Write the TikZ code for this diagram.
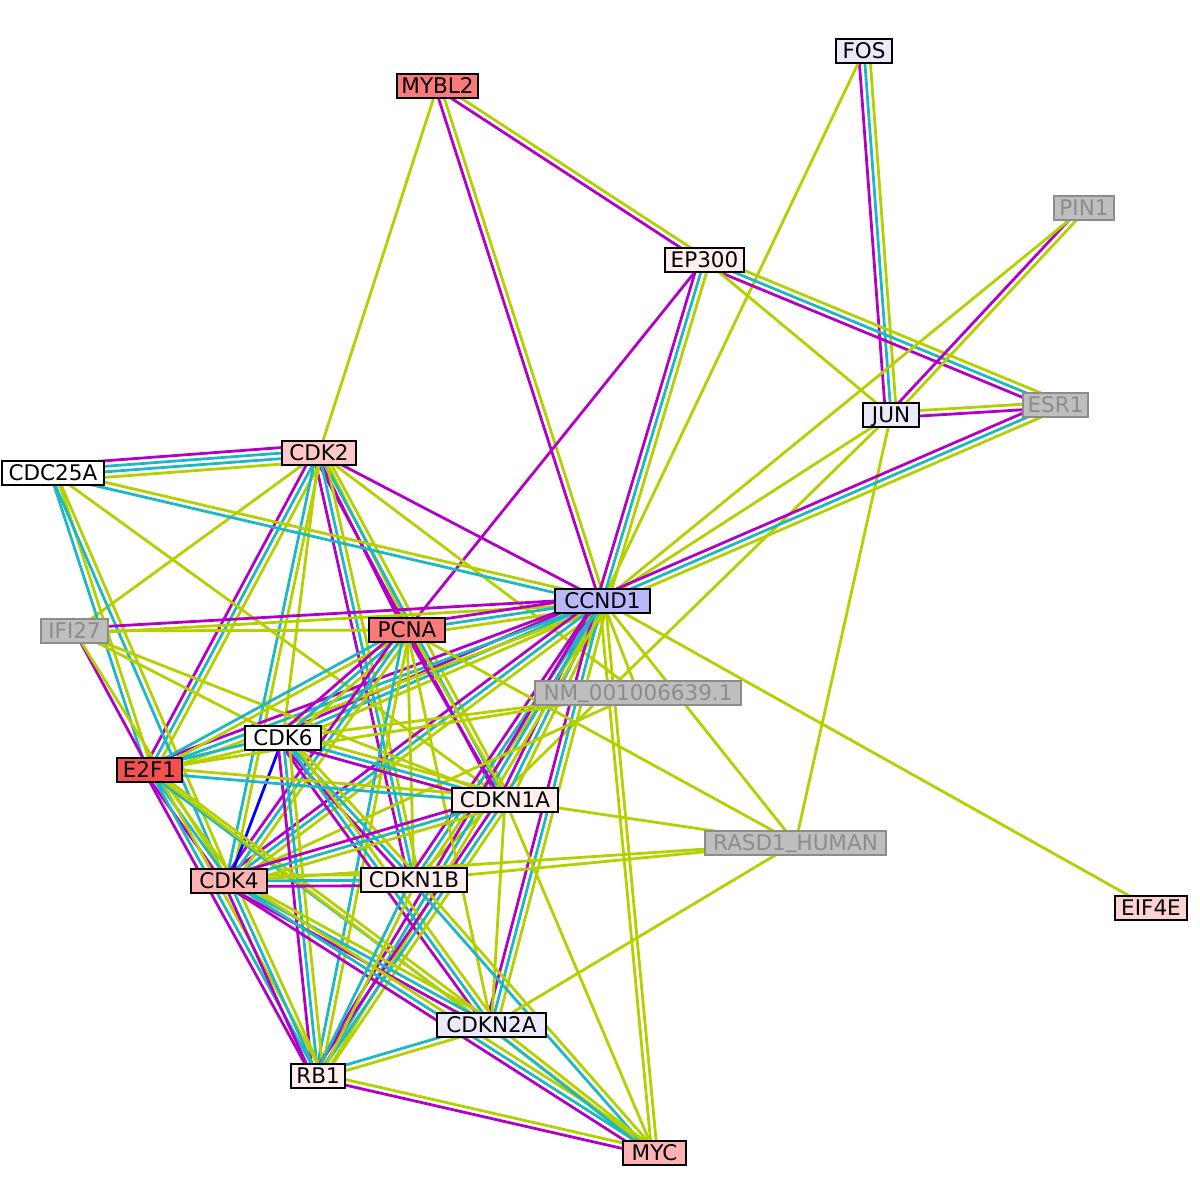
\documentclass[tikz,border=0pt]{standalone}
\usepackage{fontspec}
\setmainfont{DejaVu Sans}
\usetikzlibrary{calc,backgrounds}
\definecolor{cM}{RGB}{178,0,196}
\definecolor{cC}{RGB}{32,184,192}
\definecolor{cG}{RGB}{180,208,0}
\definecolor{cB}{RGB}{0,0,255}
\definecolor{fSal}{RGB}{250,122,122}
\definecolor{fRed}{RGB}{245,80,80}
\definecolor{fPk}{RGB}{255,200,200}
\definecolor{fPkB}{RGB}{255,178,178}
\definecolor{fPkC}{RGB}{255,210,210}
\definecolor{fLt}{RGB}{255,238,238}
\definecolor{fLav}{RGB}{234,234,250}
\definecolor{fBlu}{RGB}{184,184,250}
\definecolor{gFill}{RGB}{190,190,190}
\definecolor{gLine}{RGB}{140,140,140}
\newcommand\usc{\raisebox{3pt}{\_}}
\tikzset{
  nd/.style={draw=black, line width=2pt, minimum height=24pt, inner xsep=1pt, inner ysep=0pt,
    text height=15.5pt, text depth=0pt, font=\fontsize{21.5}{21.5}\selectfont},
  gnd/.style={nd, draw=gLine, fill=gFill, text=gLine},
  edge/.style={line width=2.8pt}
}
\newcommand\bund[3]{%
  \foreach \ecol [count=\ei] in {#3}{\xdef\nbund{\ei}}%
  \foreach \ecol [count=\ei] in {#3}{%
    \pgfmathsetmacro\eoff{(\ei-(\nbund+1)/2)*5.5}%
    \draw[edge,\ecol] ($(#1.center)!\eoff pt!90:(#2.center)$) -- ($(#2.center)!\eoff pt!-90:(#1.center)$);
  }}
\begin{document}
\begin{tikzpicture}[x=1pt,y=-1pt]
\useasboundingbox (0,0) rectangle (1200,1200);
\node[nd,fill=fSal,minimum width=81pt] (MYBL2) at (437.5,86) {MYBL2};
\node[nd,fill=fLav,minimum width=56pt] (FOS) at (864,51) {FOS};
\node[nd,fill=fLt,minimum width=79pt] (EP300) at (704.5,260) {EP300};
\node[gnd,minimum width=60pt] (PIN1) at (1084,208) {PIN1};
\node[nd,fill=fLav,minimum width=56pt] (JUN) at (891,415) {JUN};
\node[gnd,minimum width=65pt] (ESR1) at (1055.5,405) {ESR1};
\node[nd,fill=fPk,minimum width=74pt] (CDK2) at (319,453) {CDK2};
\node[nd,fill=white,minimum width=102pt] (CDC25A) at (53,473) {CDC25A};
\node[nd,fill=fBlu,minimum width=95pt] (CCND1) at (602.5,601) {CCND1};
\node[gnd,minimum width=67pt] (IFI27) at (74.5,631) {IFI27};
\node[nd,fill=fSal,minimum width=76pt] (PCNA) at (407,630) {PCNA};
\node[gnd,minimum width=206pt] (NM) at (638,693) {NM\usc 001006639.1};
\node[nd,fill=white,minimum width=76pt] (CDK6) at (283,738) {CDK6};
\node[nd,fill=fRed,minimum width=65pt] (E2F1) at (149.5,770) {E2F1};
\node[nd,fill=fLt,minimum width=106pt] (CDKN1A) at (505,800) {CDKN1A};
\node[gnd,minimum width=181pt] (RASD1) at (795.5,843) {RASD1\usc HUMAN};
\node[nd,fill=fPkB,minimum width=76pt] (CDK4) at (229,881) {CDK4};
\node[nd,fill=fLt,minimum width=106pt] (CDKN1B) at (414,880) {CDKN1B};
\node[nd,fill=fPkC,minimum width=72pt] (EIF4E) at (1151,908) {EIF4E};
\node[nd,fill=fLav,minimum width=109pt] (CDKN2A) at (491.5,1025) {CDKN2A};
\node[nd,fill=fLt,minimum width=54pt] (RB1) at (318,1076) {RB1};
\node[nd,fill=fPkB,minimum width=63pt] (MYC) at (654.5,1153) {MYC};
\begin{pgfonlayer}{background}
\bund{MYBL2}{CDK2}{cG}
\bund{MYBL2}{CCND1}{cM,cG}
\bund{MYBL2}{EP300}{cM,cG}
\bund{FOS}{JUN}{cM,cC,cG}
\bund{FOS}{CCND1}{cG}
\bund{EP300}{ESR1}{cM,cC,cG}
\bund{EP300}{JUN}{cG}
\bund{EP300}{CCND1}{cM,cC,cG}
\bund{EP300}{PCNA}{cM}
\bund{PIN1}{JUN}{cM,cG}
\bund{PIN1}{CCND1}{cG}
\bund{JUN}{ESR1}{cM,cG}
\bund{JUN}{CCND1}{cG}
\bund{JUN}{RASD1}{cG}
\bund{JUN}{CDKN1B}{cG}
\bund{ESR1}{CCND1}{cM,cC,cG}
\bund{CDK2}{CDC25A}{cM,cC,cC,cG}
\bund{CDK2}{CCND1}{cM}
\bund{CDK2}{PCNA}{cM,cG}
\bund{CDK2}{CDKN1A}{cM,cC,cG}
\bund{CDK2}{CDKN1B}{cM,cC,cG}
\bund{CDK2}{E2F1}{cM,cC,cG}
\bund{CDK2}{CDK4}{cC,cG}
\bund{CDK2}{CDK6}{cG}
\bund{CDK2}{IFI27}{cG}
\bund{CDK2}{NM}{cG}
\bund{CDC25A}{CCND1}{cC,cG}
\bund{CDC25A}{E2F1}{cC,cG}
\bund{CDC25A}{CDK4}{cC,cG}
\bund{CDC25A}{CDKN1A}{cG}
\bund{CCND1}{IFI27}{cM,cG}
\bund{CCND1}{PCNA}{cM,cC,cG}
\bund{CCND1}{NM}{cG}
\bund{CCND1}{CDK6}{cM,cC,cG}
\bund{CCND1}{E2F1}{cM,cC,cG}
\bund{CCND1}{CDKN1A}{cM,cC,cG}
\bund{CCND1}{CDK4}{cM,cC,cG}
\bund{CCND1}{CDKN1B}{cM,cC,cG}
\bund{CCND1}{CDKN2A}{cM,cC,cG}
\bund{CCND1}{RB1}{cM,cC,cG}
\bund{CCND1}{MYC}{cG,cG}
\bund{CCND1}{RASD1}{cG}
\bund{CCND1}{EIF4E}{cG}
\bund{IFI27}{PCNA}{cG}
\bund{IFI27}{E2F1}{cM}
\bund{IFI27}{CDK4}{cG}
\bund{IFI27}{CDK6}{cG}
\bund{IFI27}{CDKN1A}{cG}
\bund{PCNA}{E2F1}{cC,cG}
\bund{PCNA}{CDK6}{cM,cC,cG}
\bund{PCNA}{CDK4}{cM,cC,cG}
\bund{PCNA}{CDKN1A}{cM,cG}
\bund{PCNA}{CDKN1B}{cG}
\bund{PCNA}{RB1}{cC,cG}
\bund{PCNA}{CDKN2A}{cG}
\bund{PCNA}{RASD1}{cG}
\bund{NM}{CDK6}{cG}
\bund{NM}{CDK4}{cG}
\bund{NM}{E2F1}{cG}
\bund{CDK6}{CDK4}{cB}
\bund{CDK6}{E2F1}{cC,cG}
\bund{CDK6}{CDKN1A}{cM,cC,cG}
\bund{CDK6}{CDKN1B}{cM,cC,cG}
\bund{CDK6}{CDKN2A}{cM,cC,cG}
\bund{CDK6}{RB1}{cM,cC,cG}
\bund{E2F1}{CDK4}{cM,cC,cG}
\bund{E2F1}{CDKN1A}{cC,cG}
\bund{E2F1}{RB1}{cM,cC,cG}
\bund{E2F1}{CDKN2A}{cC,cG}
\bund{E2F1}{MYC}{cG}
\bund{CDKN1A}{CDK4}{cM,cC,cG}
\bund{CDKN1A}{CDKN2A}{cG}
\bund{CDKN1A}{RB1}{cM,cC,cG}
\bund{CDKN1A}{MYC}{cG}
\bund{CDKN1A}{RASD1}{cG}
\bund{CDK4}{CDKN1B}{cM,cC,cG}
\bund{CDK4}{CDKN2A}{cM,cC,cG}
\bund{CDK4}{RB1}{cM,cC,cG}
\bund{CDK4}{MYC}{cM,cC,cG}
\bund{CDK4}{RASD1}{cG}
\bund{CDKN1B}{RB1}{cC,cG}
\bund{CDKN1B}{MYC}{cC,cG}
\bund{CDKN1B}{RASD1}{cG}
\bund{CDKN2A}{RB1}{cC,cG}
\bund{CDKN2A}{MYC}{cC,cG}
\bund{CDKN2A}{RASD1}{cG}
\bund{RB1}{MYC}{cM,cG}
\end{pgfonlayer}
\end{tikzpicture}
\end{document}
